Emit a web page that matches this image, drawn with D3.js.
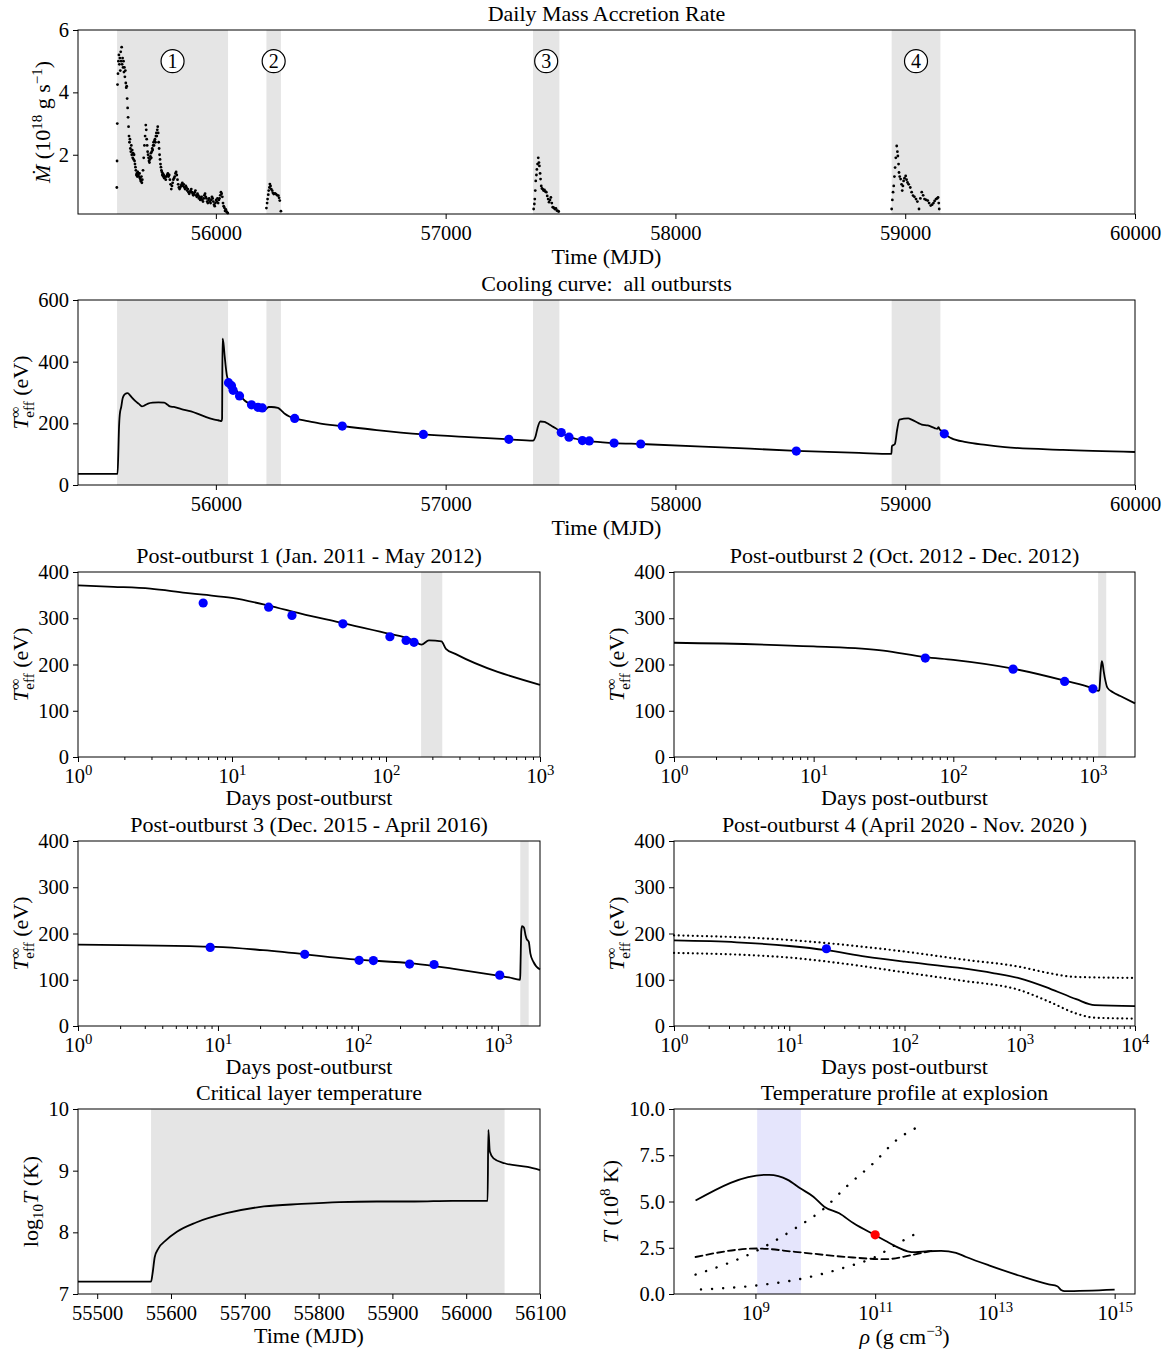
<!DOCTYPE html>
<html>
<head>
<meta charset="utf-8">
<script src="https://cdnjs.cloudflare.com/ajax/libs/d3/7.8.5/d3.min.js"></script>
<style>
  body { margin: 0; background: #fff; }
  svg text { font-family: "Liberation Serif", "DejaVu Serif", serif; fill: #000; }
</style>
</head>
<body>
<div id="chart"></div>
<script>
// ---------- data ----------

// outburst windows (MJD) and their labels
var outburstBands = [[55570, 56053], [56220, 56283], [57380, 57495], [58941, 59153]];
var outburstLabels = ["1", "2", "3", "4"];

// daily mass accretion rate, [MJD, Mdot / 1e18 g/s]
var mdotOut1 = [
  [55569,0.95],[55570,1.8],[55571,3.0],[55572,4.25],[55574,4.6],[55576,5.0],[55578,5.2],[55580,4.9],
  [55582,5.1],[55584,4.7],[55586,5.3],[55588,5.0],[55590,5.45],[55592,4.9],[55594,5.1],[55596,4.8],
  [55598,5.0],[55600,4.65],[55602,4.8],[55604,4.5],[55606,4.7],[55608,4.3],[55610,4.15],[55612,4.2],
  [55614,3.8],[55616,3.5],[55618,3.2],[55620,2.9],[55622,2.6],[55624,2.4],[55626,2.5],[55628,2.2],
  [55630,2.1],[55632,2.3],[55634,2.0],[55636,2.15],[55638,1.9],[55640,2.05],[55642,1.85],[55644,2.0],
  [55646,1.8],[55648,1.7],[55650,1.6],[55652,1.5],[55654,1.35],[55656,1.4],[55658,1.3],[55660,1.45],
  [55662,1.35],[55664,1.4],[55666,1.3],[55668,1.4],[55670,1.25],[55672,1.2],[55674,1.15],[55676,1.3],
  [55678,1.1],[55680,1.2],[55683,1.5],[55686,1.9],[55689,2.3],[55692,2.6],[55695,2.95],[55697,2.8],
  [55699,2.5],[55701,2.3],[55703,2.1],[55705,2.0],[55707,1.9],[55709,1.8],[55711,1.75],[55713,1.85],
  [55715,1.95],[55717,2.05],[55719,1.9],[55721,2.1],[55723,2.2],[55725,2.15],[55727,2.3],[55729,2.4],
  [55731,2.3],[55733,2.45],[55735,2.5],[55737,2.4],[55739,2.6],[55741,2.7],[55743,2.6],[55745,2.8],
  [55747,2.9],[55749,2.7],[55751,2.4],[55753,2.2],[55755,2.0],[55757,1.85],[55759,1.7],[55761,1.6],
  [55763,1.5],[55765,1.45],[55767,1.35],[55769,1.4],[55771,1.3],[55773,1.35],[55776,1.25],[55779,1.3],
  [55782,1.2],[55785,1.3],[55788,1.35],[55791,1.4],[55794,1.3],[55797,1.35],[55800,1.2],[55803,1.05],
  [55806,0.9],[55809,1.0],[55812,1.1],[55815,1.2],[55818,1.25],[55821,1.3],[55824,1.4],[55827,1.45],
  [55830,1.35],[55833,1.2],[55836,1.05],[55839,0.95],[55842,0.9],[55845,0.95],[55848,1.0],[55851,1.05],
  [55854,1.1],[55857,1.0],[55860,1.05],[55863,0.95],[55866,0.9],[55869,1.0],[55872,0.95],[55875,0.85],
  [55878,0.9],[55881,0.8],[55884,0.75],[55887,0.8],[55890,0.85],[55893,0.9],[55896,0.8],[55899,0.75],
  [55902,0.7],[55905,0.75],[55908,0.8],[55911,0.85],[55914,0.7],[55917,0.65],[55920,0.75],[55923,0.7],
  [55926,0.6],[55929,0.65],[55932,0.55],[55935,0.6],[55938,0.65],[55941,0.55],[55944,0.5],[55947,0.6],
  [55950,0.7],[55953,0.75],[55956,0.65],[55959,0.6],[55962,0.5],[55965,0.45],[55968,0.55],[55971,0.6],
  [55974,0.5],[55977,0.45],[55980,0.55],[55983,0.65],[55986,0.6],[55989,0.5],[55992,0.4],[55995,0.35],
  [55998,0.45],[56001,0.55],[56004,0.5],[56007,0.6],[56010,0.45],[56013,0.55],[56016,0.6],[56019,0.7],
  [56022,0.8],[56025,0.75],[56028,0.65],[56031,0.45],[56034,0.35],[56037,0.3],[56040,0.2],[56043,0.25],
  [56046,0.18],[56049,0.15],[56052,0.13]
];
var mdotOut2 = [
  [56220,0.29],[56223,0.45],[56225,0.58],[56228,0.72],[56230,0.85],[56233,0.95],[56235,1.06],[56238,1.0],
  [56241,0.9],[56245,0.85],[56248,0.78],[56252,0.74],[56257,0.76],[56262,0.74],[56267,0.7],[56272,0.69],
  [56275,0.62],[56278,0.53],[56283,0.19]
];
var mdotOut3 = [
  [57383,0.26],[57386,0.42],[57388,0.58],[57390,0.85],[57392,1.16],[57395,1.35],[57397,1.53],[57400,1.7],
  [57403,1.9],[57406,1.75],[57408,1.64],[57411,1.4],[57413,1.22],[57416,1.0],[57419,0.92],[57422,0.9],
  [57426,0.85],[57430,0.87],[57434,0.82],[57438,0.8],[57442,0.68],[57446,0.58],[57450,0.48],[57454,0.55],
  [57458,0.63],[57462,0.45],[57466,0.32],[57470,0.3],[57475,0.26],[57480,0.28],[57484,0.21],[57488,0.2],
  [57492,0.18]
];
var mdotOut4 = [
  [58941,0.26],[58944,0.55],[58947,0.8],[58950,1.0],[58953,1.3],[58956,1.59],[58959,1.9],[58963,2.28],
  [58966,2.1],[58968,1.96],[58971,1.7],[58973,1.43],[58976,1.3],[58980,1.22],[58984,1.05],[58987,0.85],
  [58990,1.0],[58993,1.16],[58997,1.25],[59002,1.32],[59006,1.2],[59010,1.11],[59015,1.05],[59022,0.95],
  [59028,0.8],[59034,0.69],[59040,0.65],[59047,0.58],[59053,0.5],[59060,0.26],[59066,0.6],[59072,0.8],
  [59078,0.7],[59084,0.58],[59091,0.55],[59098,0.53],[59104,0.45],[59111,0.37],[59117,0.4],[59123,0.45],
  [59128,0.52],[59134,0.58],[59139,0.6],[59143,0.63],[59146,0.45],[59148,0.26]
];

// full cooling curve, [MJD, Teff / eV]
var coolingCurve = [
  [55400,36],[55572,36],[55576,120],[55578,177],[55582,230],[55588,253],[55594,280],[55600,291],
  [55610,297],[55617,298],[55625,292],[55633,285],[55650,272],[55665,263],[55678,255],[55690,258],
  [55705,264],[55725,267],[55750,268],[55775,267],[55790,260],[55800,255],[55817,253],[55850,246],
  [55892,239],[55925,230],[55958,220],[55990,213],[56010,210],[56025,207],[56027,215],[56029,475],
  [56033,460],[56038,420],[56042,390],[56048,355],[56055,340],[56065,330],[56078,318],[56100,295],
  [56125,274],[56150,262],[56175,252],[56192,244],[56205,242],[56220,247],[56230,253],[56242,253],
  [56270,250],[56283,243],[56300,231],[56320,222],[56343,216],[56400,207],[56450,200],[56550,191],
  [56700,178],[56903,164],[57100,155],[57275,148],[57380,144],[57392,160],[57400,185],[57412,206],
  [57430,205],[57442,200],[57460,192],[57483,182],[57503,170],[57530,158],[57565,150],[57625,142],
  [57733,136],[57849,133],[58200,122],[58526,111],[58800,104],[58940,101],[58942,126],[58955,133],
  [58965,180],[58975,212],[59013,216],[59030,211],[59060,200],[59072,196],[59098,193],[59130,184],
  [59140,182],[59145,188],[59150,180],[59156,177],[59170,166],[59200,152],[59265,139],[59350,130],
  [59434,123],[59686,114],[60000,107]
];
var obsMjd  = [56055, 56068, 56075, 56103, 56155, 56183, 56202, 56343, 56550, 56903, 57275,
               57503, 57537, 57595, 57625, 57733, 57849, 58526, 59170];
var obsTeff = [332, 322, 307, 289, 260, 252, 250, 216, 191, 164, 148,
               170, 155, 144, 143, 136, 133, 110, 166];

// post-outburst curves, [days, Teff / eV]
var post1Curve = [[1,371],[1.7,368],[2.95,364],[5,355],[6.5,351],[10,344],[17,328],[28,310],[49,291.5],
  [100,268],[151,252],[170,243],[190,252],[229,250],[245,234],[282,223],[1000,156]];
var post1Days = [6.5, 17.3, 24.5, 52.5, 106, 135, 152];
var post1Teff = [333, 324, 306, 288, 260, 252, 248];
var post1Band = [169, 232];

var post2Curve = [[1,247],[10,239],[31.6,230],[63,216],[100,210],[268,191],[627,165],[1000,148],
  [1090,143],[1110,145],[1135,185],[1157,207],[1175,200],[1194,185],[1232,163],[1268,150],
  [1390,140],[1570,132],[2000,116]];
var post2Days = [63, 268, 627, 1000];
var post2Teff = [214, 190, 163.5, 147.5];
var post2Band = [1089, 1245];

var post3Curve = [[1,176],[9.6,171],[21,164],[94,144],[254,135],[472,124],[950,110],[1200,105],
  [1443,100],[1450,125],[1470,205],[1489,216],[1535,213],[1580,195],[1602,189],[1663,182],
  [1706,157],[1791,139],[2000,122]];
var post3Days = [8.8, 41.7, 102, 129, 234, 350, 1031];
var post3Teff = [170, 155, 142, 141.5, 134, 133, 110];
var post3Band = [1446, 1660];

var post4Curve = [[1,185],[3.5,181],[10,173],[21,164],[46,150],[100,139],[290,126],[600,114],
  [1000,103],[1820,81],[3090,58],[4470,45],[10000,43]];
var post4Upper = [[1,196],[10,186],[31.6,175],[100,161],[316,144],[1000,128],[1820,114],[3090,106],[10000,104]];
var post4Lower = [[1,158],[10,148],[31.6,134],[100,116],[316,98],[1000,77.5],[1820,52],[3090,27],[4470,18],[10000,16]];
var post4Days = [21];
var post4Teff = [167];

// critical layer temperature, [MJD, log10 T]
var critLayer = [[55474,7.2],[55573,7.2],[55575,7.33],[55578,7.6],[55583,7.74],[55593,7.87],[55608,8.01],
  [55634,8.16],[55675,8.31],[55726,8.42],[55777,8.46],[55828,8.49],[55879,8.5],[55930,8.5],[55981,8.51],
  [56029,8.51],[56030,9.66],[56032,9.31],[56037,9.2],[56052,9.12],[56083,9.06],[56100,9.01]];

// temperature profile at explosion, [rho / g cm^-3, T / 1e8 K]
var rhoSolid = [[1e8,5.05],[1.48e9,6.44],[1.7e9,6.44],[3.47e9,6.17],[5.6e9,5.71],[9.3e9,5.26],[1.41e10,4.72],
  [2.51e10,4.36],[4.37e10,3.82],[1e11,3.18],[1.48e11,2.88],[2.29e11,2.55],[3.47e11,2.31],[4.68e11,2.26],
  [7.6e11,2.31],[1.26e12,2.33],[2.24e12,2.22],[3.31e12,2.0],[7.94e12,1.55],[2.51e13,1.0],[7.94e13,0.52],
  [1.1e14,0.42],[1.3e14,0.2],[1.45e14,0.16],[1e15,0.24]];
var rhoDashed = [[1e8,2.0],[1.1e9,2.46],[4.57e9,2.28],[3.31e10,2.0],[1.48e11,1.88],[3.98e11,2.1],[8.7e11,2.33]];
var rhoDotUpper = [[1e8,1.05],[1.1e9,2.37],[4.57e9,3.54],[1.41e10,4.63],[3.31e10,5.8],[1e11,7.16],[2.14e11,8.25],[5.75e11,9.1]];
var rhoDotLower = [[1.23e8,0.24],[1.1e9,0.47],[5e9,0.78],[3.31e10,1.46],[1e11,2.0],[2.14e11,2.64],[5.75e11,3.4]];
var ignitionPoint = [[1e11, 3.2]];
var ignitionBand = [1.07e9, 5.75e9];

// ---------- layout ----------
var svgWidth = 1167;
var svgHeight = 1353;
var fontTick = 20.5;
var fontLabel = 22;
var fontTitle = 22;

var svg = d3.select("#chart").append("svg")
  .attr("width", svgWidth)
  .attr("height", svgHeight);

var boxes = {
  p1: {left: 78, right: 1135, top: 30, bottom: 214},
  p2: {left: 78, right: 1135, top: 300, bottom: 485},
  p3: {left: 78, right: 540, top: 572, bottom: 757},
  p4: {left: 674, right: 1135, top: 572, bottom: 757},
  p5: {left: 78, right: 540, top: 841, bottom: 1026},
  p6: {left: 674, right: 1135, top: 841, bottom: 1026},
  p7: {left: 78, right: 540, top: 1109, bottom: 1294},
  p8: {left: 674, right: 1135, top: 1109, bottom: 1294}
};

function makePanel(box) {
  var w = box.right - box.left, h = box.bottom - box.top;
  var g = svg.append("g").attr("transform", `translate(${box.left},${box.top})`);
  return {g: g, w: w, h: h, box: box};
}

function logLabels(sel) {
  sel.selectAll(".tick text").each(function(d) {
    var t = d3.select(this);
    t.text(null);
    t.append("tspan").text("10");
    t.append("tspan").attr("dy", "-0.5em").attr("font-size", "0.72em").text(Math.round(Math.log10(d)));
  });
}

function minorLogTicks(domain) {
  var out = [];
  for (var e = Math.floor(Math.log10(domain[0])); e <= Math.ceil(Math.log10(domain[1])); e++) {
    for (var k = 2; k <= 9; k++) {
      var v = k * Math.pow(10, e);
      if (v > domain[0] && v < domain[1]) out.push(v);
    }
  }
  return out;
}

function drawAxes(p, x, y, opt) {
  var xAxis = d3.axisBottom(x).tickSize(5).tickPadding(6).tickValues(opt.xTicks)
    .tickFormat(opt.xLog ? function() { return ""; } : (opt.xFmt || d3.format("d")));
  var gx = p.g.append("g")
    .attr("transform", `translate(0,${p.h})`)
    .call(xAxis);
  if (opt.xLog) logLabels(gx);
  if (opt.xMinor) {
    p.g.append("g").attr("transform", `translate(0,${p.h})`)
      .call(d3.axisBottom(x).tickSize(3).tickValues(opt.xMinor).tickFormat(""))
      .select(".domain").remove();
  }
  var yAxis = d3.axisLeft(y).tickSize(5).tickPadding(4).tickValues(opt.yTicks)
    .tickFormat(opt.yFmt || d3.format("d"));
  var gy = p.g.append("g").call(yAxis);

  [gx, gy].forEach(function(a) {
    a.attr("font-size", fontTick).attr("font-family", null);
    a.select(".domain").remove();
  });
  p.g.selectAll(".tick line").attr("stroke", "#000").attr("stroke-width", 1);

  // frame
  p.g.append("rect")
    .attr("width", p.w).attr("height", p.h)
    .attr("fill", "none").attr("stroke", "#000").attr("stroke-width", 1);

  // title
  p.g.append("text")
    .attr("x", p.w / 2).attr("y", -9)
    .attr("text-anchor", "middle").attr("font-size", fontTitle)
    .text(opt.title);
}

function xLabel(p, parts, dy) {
  var t = p.g.append("text")
    .attr("x", p.w / 2).attr("y", p.h + (dy || 49))
    .attr("text-anchor", "middle").attr("font-size", fontLabel);
  parts(t);
}

function yLabel(p, xOff, parts) {
  var t = p.g.append("text")
    .attr("transform", `translate(${xOff},${p.h / 2}) rotate(-90)`)
    .attr("text-anchor", "middle").attr("font-size", fontLabel);
  parts(t);
}

function timeLabel(t) { t.text("Time (MJD)"); }
function daysLabel(t) { t.text("Days post-outburst"); }
function teffLabel(t) {
  t.append("tspan").attr("font-style", "italic").text("T");
  t.append("tspan").attr("font-size", 15).attr("dy", -8).text("\u221e");
  t.append("tspan").attr("font-size", 15).attr("dx", -11).attr("dy", 14).text("eff");
  t.append("tspan").attr("dy", -6).text(" (eV)");
}

function bands(p, x, list, fill) {
  p.g.selectAll(null).data(list).enter().append("rect")
    .attr("x", d => x(d[0]))
    .attr("width", d => x(d[1]) - x(d[0]))
    .attr("y", 0).attr("height", p.h)
    .attr("fill", fill || "#e5e5e5");
}

function curve(p, x, y, data, dash, width) {
  p.g.append("path")
    .datum(data)
    .attr("fill", "none")
    .attr("stroke", "#000")
    .attr("stroke-width", width || 1.8)
    .attr("stroke-linecap", dash ? "round" : "butt")
    .attr("stroke-linejoin", "round")
    .attr("stroke-dasharray", dash || null)
    .attr("d", d3.line().x(d => x(d[0])).y(d => y(d[1])).curve(d3.curveMonotoneX));
}

function dots(p, x, y, xs, ys, color) {
  p.g.selectAll(null).data(xs).enter().append("circle")
    .attr("cx", d => x(d))
    .attr("cy", (d, i) => y(ys[i]))
    .attr("r", 4.6)
    .attr("fill", color || "#0000ff");
}

// ---------- panel 1: daily mass accretion rate ----------
var p1 = makePanel(boxes.p1);
var x1 = d3.scaleLinear().domain([55400, 60000]).range([0, p1.w]);
var y1 = d3.scaleLinear().domain([0.1, 6]).range([p1.h, 0]);
bands(p1, x1, outburstBands);
var mdotAll = mdotOut1.concat(mdotOut2, mdotOut3, mdotOut4);
p1.g.selectAll(null).data(mdotAll).enter().append("circle")
  .attr("cx", d => x1(d[0])).attr("cy", d => y1(d[1]))
  .attr("r", 1.4).attr("fill", "#000");
var lab = p1.g.selectAll(null).data(outburstBands).enter().append("g")
  .attr("transform", d => `translate(${x1((d[0] + d[1]) / 2)},${y1(5)})`);
lab.append("circle").attr("r", 11.5).attr("fill", "#fff").attr("stroke", "#000").attr("stroke-width", 1.2);
lab.append("text").attr("text-anchor", "middle").attr("dy", "0.35em").attr("font-size", 20)
  .text((d, i) => outburstLabels[i]);
drawAxes(p1, x1, y1, {xTicks: [56000, 57000, 58000, 59000, 60000], yTicks: [2, 4, 6], title: "Daily Mass Accretion Rate"});
xLabel(p1, timeLabel, 50);
yLabel(p1, -28, function(t) {
  t.append("tspan").attr("font-style", "italic").text("\u1e40");
  t.append("tspan").text(" (10");
  t.append("tspan").attr("font-size", 15).attr("dy", -8).text("18");
  t.append("tspan").attr("dy", 8).text(" g s");
  t.append("tspan").attr("font-size", 15).attr("dy", -8).text("\u22121");
  t.append("tspan").attr("dy", 8).text(")");
});

// ---------- panel 2: full cooling curve ----------
var p2 = makePanel(boxes.p2);
var x2 = d3.scaleLinear().domain([55400, 60000]).range([0, p2.w]);
var y2 = d3.scaleLinear().domain([0, 600]).range([p2.h, 0]);
bands(p2, x2, outburstBands);
curve(p2, x2, y2, coolingCurve);
dots(p2, x2, y2, obsMjd, obsTeff);
drawAxes(p2, x2, y2, {xTicks: [56000, 57000, 58000, 59000, 60000], yTicks: [0, 200, 400, 600], title: "Cooling curve:\u00a0 all outbursts"});
xLabel(p2, timeLabel, 50);
yLabel(p2, -50, teffLabel);

// ---------- panels 3-6: post-outburst cooling ----------
function postPanel(box, xMax, yTicks, title, xTicks) {
  var p = makePanel(box);
  p.x = d3.scaleLog().domain([1, xMax]).range([0, p.w]);
  p.y = d3.scaleLinear().domain([0, 400]).range([p.h, 0]);
  p.opt = {xTicks: xTicks, xLog: true, xMinor: minorLogTicks([1, xMax]), yTicks: yTicks, title: title};
  return p;
}
var teffTicks = [0, 100, 200, 300, 400];

var p3 = postPanel(boxes.p3, 1000, teffTicks, "Post-outburst 1 (Jan. 2011 - May 2012)", [1, 10, 100, 1000]);
bands(p3, p3.x, [post1Band]);
curve(p3, p3.x, p3.y, post1Curve);
dots(p3, p3.x, p3.y, post1Days, post1Teff);
drawAxes(p3, p3.x, p3.y, p3.opt);
xLabel(p3, daysLabel, 48);
yLabel(p3, -50, teffLabel);

var p4 = postPanel(boxes.p4, 2000, teffTicks, "Post-outburst 2 (Oct. 2012 - Dec. 2012)", [1, 10, 100, 1000]);
bands(p4, p4.x, [post2Band]);
curve(p4, p4.x, p4.y, post2Curve);
dots(p4, p4.x, p4.y, post2Days, post2Teff);
drawAxes(p4, p4.x, p4.y, p4.opt);
xLabel(p4, daysLabel, 48);
yLabel(p4, -50, teffLabel);

var p5 = postPanel(boxes.p5, 2000, teffTicks, "Post-outburst 3 (Dec. 2015 - April 2016)", [1, 10, 100, 1000]);
bands(p5, p5.x, [post3Band]);
curve(p5, p5.x, p5.y, post3Curve);
dots(p5, p5.x, p5.y, post3Days, post3Teff);
drawAxes(p5, p5.x, p5.y, p5.opt);
xLabel(p5, daysLabel, 48);
yLabel(p5, -50, teffLabel);

var p6 = postPanel(boxes.p6, 10000, teffTicks, "Post-outburst 4 (April 2020 - Nov. 2020 )", [1, 10, 100, 1000, 10000]);
curve(p6, p6.x, p6.y, post4Upper, "0.1 4.6", 2.2);
curve(p6, p6.x, p6.y, post4Lower, "0.1 4.6", 2.2);
curve(p6, p6.x, p6.y, post4Curve);
dots(p6, p6.x, p6.y, post4Days, post4Teff);
drawAxes(p6, p6.x, p6.y, p6.opt);
xLabel(p6, daysLabel, 48);
yLabel(p6, -50, teffLabel);

// ---------- panel 7: critical layer temperature ----------
var p7 = makePanel(boxes.p7);
var x7 = d3.scaleLinear().domain([55474, 56100]).range([0, p7.w]);
var y7 = d3.scaleLinear().domain([7, 10]).range([p7.h, 0]);
bands(p7, x7, [[outburstBands[0][0] + 3, outburstBands[0][1] - 1]]);
curve(p7, x7, y7, critLayer);
drawAxes(p7, x7, y7, {xTicks: d3.range(55500, 56101, 100), yTicks: [7, 8, 9, 10], title: "Critical layer temperature"});
xLabel(p7, timeLabel, 49);
yLabel(p7, -40, function(t) {
  t.append("tspan").text("log");
  t.append("tspan").attr("font-size", 15).attr("dy", 5).text("10");
  t.append("tspan").attr("font-style", "italic").attr("dy", -5).text("T");
  t.append("tspan").text(" (K)");
});

// ---------- panel 8: temperature profile ----------
var p8 = makePanel(boxes.p8);
var x8 = d3.scaleLog().domain([Math.pow(10, 7.64), Math.pow(10, 15.34)]).range([0, p8.w]);
var y8 = d3.scaleLinear().domain([0, 10]).range([p8.h, 0]);
bands(p8, x8, [ignitionBand], "#e5e5fc");
curve(p8, x8, y8, rhoDotUpper, "0.1 11", 2.4);
curve(p8, x8, y8, rhoDotLower, "0.1 11", 2.4);
curve(p8, x8, y8, rhoDashed, "7 4");
curve(p8, x8, y8, rhoSolid);
dots(p8, x8, y8, ignitionPoint.map(d => d[0]), ignitionPoint.map(d => d[1]), "#ff0000");
drawAxes(p8, x8, y8, {xTicks: [1e9, 1e11, 1e13, 1e15], xLog: true, yTicks: [0, 2.5, 5, 7.5, 10],
  yFmt: d3.format(".1f"), title: "Temperature profile at explosion"});
xLabel(p8, function(t) {
  t.append("tspan").attr("font-style", "italic").text("\u03c1");
  t.append("tspan").text(" (g cm");
  t.append("tspan").attr("font-size", 15).attr("dy", -8).text("\u22123");
  t.append("tspan").attr("dy", 8).text(")");
}, 50);
yLabel(p8, -56, function(t) {
  t.append("tspan").attr("font-style", "italic").text("T");
  t.append("tspan").text(" (10");
  t.append("tspan").attr("font-size", 15).attr("dy", -8).text("8");
  t.append("tspan").attr("dy", 8).text(" K)");
});
</script>
</body>
</html>
